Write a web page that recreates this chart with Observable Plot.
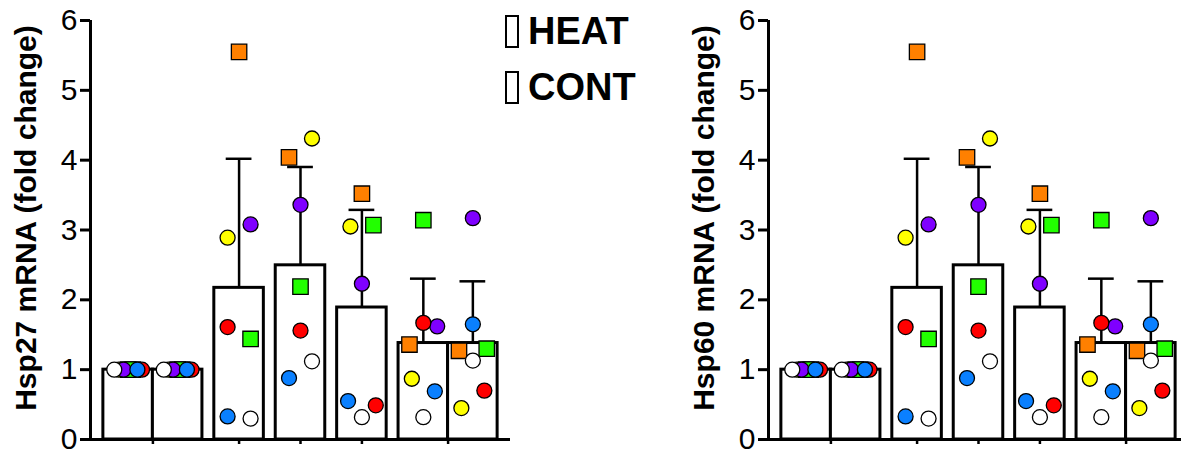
<!DOCTYPE html>
<html><head><meta charset="utf-8">
<script src="https://cdn.jsdelivr.net/npm/d3@7"></script>
<script src="https://cdn.jsdelivr.net/npm/@observablehq/plot@0.6"></script>
<style>
html,body{margin:0;padding:0;background:#fff;overflow:hidden;}
#wrap{position:relative;width:1181px;height:455px;overflow:hidden;font-family:"Liberation Sans",Arial,sans-serif;}
#wrap svg{max-width:none;}
#left{position:absolute;left:0;top:0;width:678px;height:455px;}
#right{position:absolute;left:678px;top:0;width:520px;height:455px;}
#legend{position:absolute;left:505px;top:3px;}
.item{display:flex;align-items:center;height:56px;font-weight:bold;font-size:38px;color:#000;line-height:1;}
.box{width:10px;height:29px;border:2px solid #000;margin-right:9px;background:#fff;}
</style></head><body>
<div id="wrap"><div id="left"></div><div id="right"></div><div id="legend"></div></div>
<script>
// ---- data ----
const bars = ["B1", "B2", "B3", "B4", "B5", "B6", "B7"];       // seven bars, no visible labels
const barGroup = [0, 0, 1, 2, 3, 4, 4];                         // bars 1-2 and 6-7 are paired
const subjects = ["S1", "S2", "S3", "S4", "S5", "S6", "S7"];    // individual animals (colour-coded)
const subjectShape = ["circle", "circle", "circle", "square", "square", "circle", "circle"];
const legendLabels = ["HEAT", "CONT"];
const yTicks = [0, 1, 2, 3, 4, 5, 6];
const titles = ["Hsp27 mRNA (fold change)", "Hsp60 mRNA (fold change)"];

// fold change per subject, one value per bar
const hsp27 = {
  S1: [1, 1, 0.30, 1.12, 0.32, 0.32, 1.13],   // white
  S2: [1, 1, 2.89, 4.31, 3.05, 0.87, 0.45],   // yellow
  S3: [1, 1, 3.08, 3.36, 2.23, 1.62, 3.17],   // purple
  S4: [1, 1, 1.44, 2.19, 3.07, 3.14, 1.30],   // green
  S5: [1, 1, 5.55, 4.04, 3.52, 1.36, 1.27],   // orange
  S6: [1, 1, 0.33, 0.88, 0.55, 0.69, 1.65],   // blue
  S7: [1, 1, 1.61, 1.56, 0.49, 1.67, 0.70]    // red
};
const hsp60 = {
  S1: [1, 1, 0.30, 1.12, 0.32, 0.32, 1.13],
  S2: [1, 1, 2.89, 4.31, 3.05, 0.87, 0.45],
  S3: [1, 1, 3.08, 3.36, 2.23, 1.62, 3.17],
  S4: [1, 1, 1.44, 2.19, 3.07, 3.14, 1.30],
  S5: [1, 1, 5.55, 4.04, 3.52, 1.36, 1.27],
  S6: [1, 1, 0.33, 0.88, 0.55, 0.69, 1.65],
  S7: [1, 1, 1.61, 1.56, 0.49, 1.67, 0.70]
};

// ---- styling / layout options ----
const palette = ["#ffffff", "#ffff00", "#7f00ff", "#22ff00", "#ff8000", "#0a80ff", "#ff0000"];
const placeOrder = ["S5", "S2", "S6", "S1", "S7", "S3", "S4"];
const drawOrder = ["S2", "S3", "S1", "S7", "S6", "S5", "S4"];
const GAP = 0.24, PAD = 0.26, NEAR = 0.3;
const nGroups = new Set(barGroup).size;
const xDomain = [-PAD, bars.length + GAP * (nGroups - 1) + PAD];

function build(values) {
  const stats = [], points = [];
  bars.forEach((b, i) => {
    const x1 = i + GAP * barGroup[i];
    const center = x1 + 0.5;
    const pts = subjects.map((s, k) => ({bar: b, subject: s, shape: subjectShape[k], value: values[s][i], center}));
    const v = pts.map(p => p.value);
    stats.push({bar: b, group: barGroup[i], x1, x2: x1 + 1, center, mean: d3.mean(v), sd: d3.deviation(v)});
    // spread neighbouring points sideways (scatter-dot-plot style)
    const sorted = pts.slice().sort((a, c) => a.value - c.value);
    const clusters = [];
    let cur = [sorted[0]];
    for (let j = 1; j < sorted.length; j++) {
      if (sorted[j].value - sorted[j - 1].value < NEAR) cur.push(sorted[j]);
      else { clusters.push(cur); cur = [sorted[j]]; }
    }
    clusters.push(cur);
    for (const c of clusters) {
      const n = c.length;
      const tied = c.every(p => p.value === c[0].value);
      const ord = tied ? subjects : placeOrder;
      c.sort((a, z) => ord.indexOf(a.subject) - ord.indexOf(z.subject));
      const half = n === 1 ? 0 : Math.min(0.232 * (n - 1), 0.28);
      c.forEach((p, j) => { p.x = p.center + (n === 1 ? 0 : -half + 2 * half * j / (n - 1)); });
    }
    points.push(...pts);
  });
  points.sort((a, z) => drawOrder.indexOf(a.subject) - drawOrder.indexOf(z.subject));
  const centers = d3.rollups(stats, g => (d3.min(g, d => d.x1) + d3.max(g, d => d.x2)) / 2, d => d.group).map(d => d[1]);
  return {stats, points, centers};
}

function chart(values, title, width) {
  const {stats, points, centers} = build(values);
  const err = stats.filter(d => d.sd > 0);
  return Plot.plot({
    width, height: 455,
    marginLeft: 90, marginRight: width - 510, marginTop: 20, marginBottom: 16,
    x: {domain: xDomain, axis: null},
    y: {domain: [0, 6], axis: null},
    color: {type: "ordinal", domain: subjects, range: palette},
    style: {fontFamily: "'Liberation Sans', Arial, sans-serif", background: "transparent", overflow: "visible", color: "#000"},
    marks: [
      Plot.rectY(stats, {x1: "x1", x2: "x2", y: "mean", fill: "white", stroke: "black", strokeWidth: 3}),
      Plot.ruleX(err, {x: "center", y1: "mean", y2: d => d.mean + d.sd, stroke: "black", strokeWidth: 2.5}),
      Plot.ruleY(err, {y: d => d.mean + d.sd, x1: d => d.center - 0.26, x2: d => d.center + 0.26, stroke: "black", strokeWidth: 2.5}),
      Plot.dot(points.filter(p => p.shape === "square"), {x: "x", y: "value", symbol: "square", r: 8.7, fill: "subject", stroke: "black", strokeWidth: 1.3}),
      Plot.dot(points.filter(p => p.shape === "circle"), {x: "x", y: "value", r: 7.5, fill: "subject", stroke: "black", strokeWidth: 1.3}),
      Plot.ruleY([0], {stroke: "black", strokeWidth: 3}),
      Plot.ruleX([xDomain[0]], {stroke: "black", strokeWidth: 3}),
      Plot.axisY({ticks: yTicks, tickFormat: d3.format("d"), tickSize: 10, tickPadding: 3, fontSize: 30, strokeWidth: 3, label: null}),
      Plot.axisX({ticks: centers, tickSize: 5, tickFormat: () => "", strokeWidth: 2.5, label: null}),
      Plot.text([title], {frameAnchor: "left", textAnchor: "middle", lineAnchor: "middle", rotate: -90, dx: -64, dy: -12, fontSize: 30, fontWeight: "bold", fill: "black"})
    ]
  });
}

document.getElementById("left").append(chart(hsp27, titles[0], 678));
document.getElementById("right").append(chart(hsp60, titles[1], 520));

const legend = document.getElementById("legend");
for (const lab of legendLabels) {
  const item = document.createElement("div");
  item.className = "item";
  const box = document.createElement("div");
  box.className = "box";
  const t = document.createElement("span");
  t.textContent = lab;
  item.append(box, t);
  legend.append(item);
}
</script>
</body></html>
